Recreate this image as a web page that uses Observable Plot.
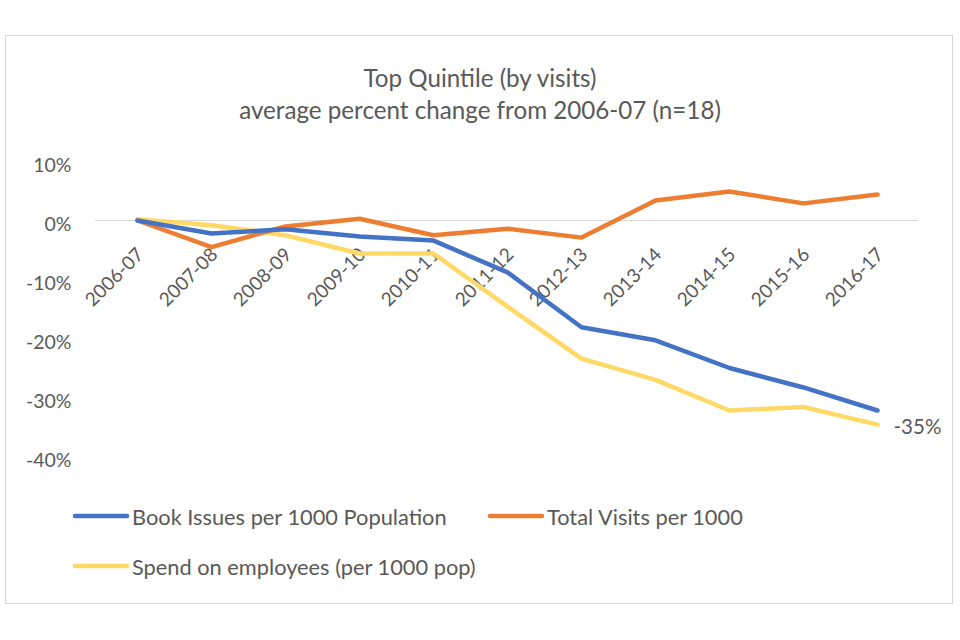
<!DOCTYPE html>
<html>
<head>
<meta charset="utf-8">
<script src="https://cdn.jsdelivr.net/npm/d3@7"></script>
<script src="https://cdn.jsdelivr.net/npm/@observablehq/plot@0.6"></script>
<style>
  html, body { margin: 0; padding: 0; background: #fff; }
  body { width: 960px; height: 640px; position: relative; overflow: hidden; font-family: Lato, "Open Sans", sans-serif; color: #595959; }
  #frame { position: absolute; left: 5px; top: 35px; width: 946px; height: 567px; border: 1.5px solid #d4d4d4; }
  #title { position: absolute; left: 0; top: 62px; width: 960px; text-align: center; font-size: 24.2px; line-height: 32px; color: #595959; }
  #chart { position: absolute; left: 0; top: 140px; }
  .leg { position: absolute; font-size: 21.8px; color: #595959; display: flex; align-items: center; white-space: nowrap; }
  .leg svg { margin-right: 2px; }
</style>
</head>
<body>
<div id="frame"></div>
<div id="title">Top Quintile (by visits)<br>average percent change from 2006-07 (n=18)</div>
<div id="chart"></div>
<div id="legend"></div>
<script>
const categories = ["2006-07","2007-08","2008-09","2009-10","2010-11","2011-12","2012-13","2013-14","2014-15","2015-16","2016-17"];
const bookIssues = [0, -2.2, -1.5, -2.7, -3.4, -8.8, -18.1, -20.3, -25.0, -28.3, -32.2];
const totalVisits = [0, -4.5, -1.0, 0.3, -2.5, -1.4, -2.9, 3.4, 4.9, 2.9, 4.4];
const spendEmployees = [0.2, -0.8, -2.5, -5.6, -5.6, -14.6, -23.4, -27.0, -32.2, -31.6, -34.6];
const seriesNames = ["Book Issues per 1000 Population", "Total Visits per 1000", "Spend on employees (per 1000 pop)"];
const seriesColors = ["#4472C4", "#ED7D31", "#FFD966"];
const yTicks = [10, 0, -10, -20, -30, -40];
const endLabel = "-35%";

const rows = [];
[bookIssues, totalVisits, spendEmployees].forEach((vals, s) => {
  vals.forEach((v, i) => rows.push({series: seriesNames[s], cat: categories[i], value: v}));
});
const drawOrder = [seriesNames[2], seriesNames[1], seriesNames[0]];

const chart = Plot.plot({
  width: 960,
  height: 340,
  marginTop: 21,
  marginBottom: 24,
  marginLeft: 95,
  marginRight: 42,
  style: {fontFamily: "Lato, 'Open Sans', sans-serif", fontSize: "20px", color: "#595959", background: "transparent"},
  x: {type: "point", domain: categories, padding: 0.5, axis: null},
  y: {domain: [-40, 10], ticks: yTicks, tickFormat: d => d + "%", tickSize: 0, tickPadding: 24, label: null},
  color: {domain: seriesNames, range: seriesColors},
  marks: [
    Plot.axisY({ticks: yTicks, tickFormat: d => d + "%", tickSize: 0, tickPadding: 24, label: null, fontSize: 19.5, fill: "#595959", dy: 4}),
    Plot.ruleY([0], {stroke: "#d9d9d9", strokeWidth: 1.2}),
    Plot.text(categories, {x: d => d, y: 0, text: d => d, rotate: -45, textAnchor: "end", lineAnchor: "middle", dx: 3, dy: 31, fontSize: 19, fill: "#595959"}),
    ...drawOrder.map(name => Plot.line(rows.filter(r => r.series === name), {x: "cat", y: "value", stroke: "series", strokeWidth: 4.5, strokeLinejoin: "round", strokeLinecap: "round"})),
    Plot.text([rows.filter(r => r.series === seriesNames[2]).at(-1)], {x: "cat", y: "value", text: () => endLabel, textAnchor: "start", dx: 16, dy: 3, fontSize: 20.5, fill: "#595959"})
  ]
});
document.getElementById("chart").appendChild(chart);

const legendPos = [
  {left: 72, top: 516},
  {left: 487, top: 516},
  {left: 72, top: 566}
];
const legend = document.getElementById("legend");
seriesNames.forEach((name, i) => {
  const d = document.createElement("div");
  d.className = "leg";
  d.style.left = legendPos[i].left + "px";
  d.style.top = (legendPos[i].top - 14) + "px";
  d.style.height = "28px";
  d.innerHTML = `<svg width="58" height="10"><line x1="3" y1="5" x2="55" y2="5" stroke="${seriesColors[i]}" stroke-width="4.5" stroke-linecap="round"/></svg><span>${name}</span>`;
  legend.appendChild(d);
});
</script>
</body>
</html>
